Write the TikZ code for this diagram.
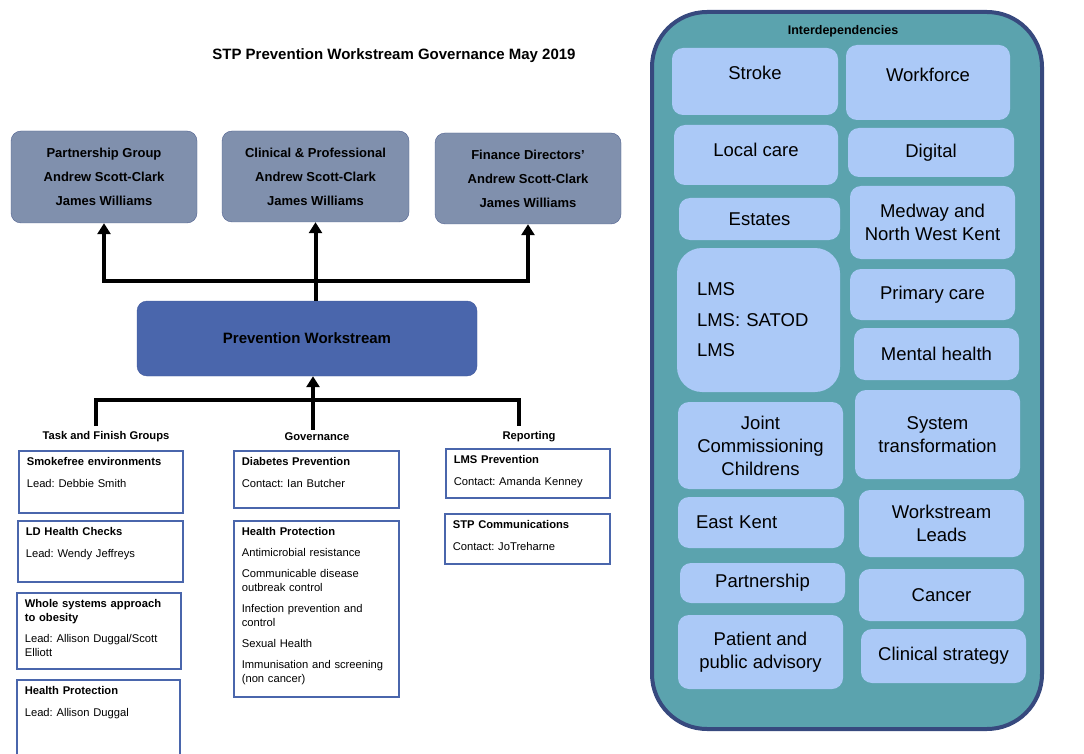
\documentclass[tikz,border=0pt]{standalone}
\usepackage{fontspec}
\setmainfont{Liberation Sans}
\usepackage{tikz}
\usetikzlibrary{arrows.meta}
\definecolor{govfill}{RGB}{128,144,173}
\definecolor{govline}{RGB}{80,97,144}
\definecolor{wsfill}{RGB}{74,102,172}
\definecolor{wsline}{RGB}{64,88,156}
\definecolor{listline}{RGB}{74,102,172}
\definecolor{panelfill}{RGB}{91,163,174}
\definecolor{panelline}{RGB}{55,73,126}
\definecolor{depfill}{RGB}{171,201,247}
\newcommand{\listfont}{\fontsize{11.2}{14}\selectfont}
\newcommand{\depfont}{\fontsize{18.5}{23}\selectfont}
\newcommand{\govfont}{\fontsize{13}{24}\selectfont\bfseries}
\frenchspacing

\begin{document}
\begin{tikzpicture}[x=1pt, y=-1pt,
    govbox/.style n args={2}{draw=govline, fill=govfill, rounded corners=10pt,
        minimum width=#1pt, minimum height=#2pt, align=center, font=\govfont},
    wsbox/.style={draw=wsline, fill=wsfill, rounded corners=10pt,
        minimum width=340pt, minimum height=75pt, font=\fontsize{15}{18}\selectfont\bfseries},
    head/.style={font=\listfont\bfseries},
    listbox/.style n args={2}{draw=listline, line width=1.6pt, anchor=north west,
        text width=#1pt, text height=9pt, text depth=#2pt,
        inner xsep=8pt, inner ysep=6pt, align=left, font=\listfont},
    panel/.style={draw=panelline, fill=panelfill, line width=4pt, rounded corners=55pt,
        minimum width=390pt, minimum height=717pt},
    dep/.style n args={2}{fill=depfill, rounded corners=11pt, inner sep=0pt,
        minimum width=#1pt, minimum height=#2pt, align=center, font=\depfont},
    link/.style={line width=4pt},
    arr/.style={link, -{Triangle[length=11pt,width=13pt]}}]
    \useasboundingbox (0,0) rectangle (1084,754);

    \node[font=\fontsize{15}{18}\selectfont\bfseries] (title) at (394,56) {STP Prevention Workstream Governance May 2019};

    \node[govbox={186}{92}] (partner) at (104,177) {Partnership Group\\Andrew Scott-Clark\\James Williams};
    \node[govbox={187}{91}] (clin) at (315.5,176.5) {Clinical \& Professional\\Andrew Scott-Clark\\James Williams};
    \node[govbox={186}{91}] (finance) at (528,178.5) {Finance Directors'\\Andrew Scott-Clark\\James Williams};

    \node[wsbox] (pw) at (307,338.5) {Prevention Workstream};

    \coordinate (up) at (clin.south |- 0,281);
    \draw[arr] (clin.south |- pw.north) -- (clin.south);
    \draw[arr] (up) -| (partner.south);
    \draw[arr] (up) -| (finance.south);

    \node[head] (tfg) at (106,437) {Task and Finish Groups};
    \node[head] (gov) at (317,437) {Governance};
    \node[head] (rep) at (529,437) {Reporting};

    \coordinate (down) at (313,400);
    \coordinate (tl) at (96,426);
    \coordinate (rl) at (519,426);
    \draw[link] (tl) |- (down) -| (rl);
    \draw[arr] (gov.north -| down) -- (pw.south -| down);

    \node[listbox={148}{41}] (smoke) at (18,450) {\textbf{Smokefree environments}\\[8pt]Lead: Debbie Smith};
    \node[listbox={149}{40}] (ldhc) at (17,520) {\textbf{LD Health Checks}\\[8pt]Lead: Wendy Jeffreys};
    \node[listbox={148}{55}] (obesity) at (16,592) {\textbf{Whole systems approach}\\\textbf{to obesity}\\[7pt]Lead: Allison Duggal/Scott\\Elliott};
    \node[listbox={147}{75}] (hplead) at (16,679) {\textbf{Health Protection}\\[8pt]Lead: Allison Duggal};

    \node[listbox={149}{36}] (diabetes) at (233,450) {\textbf{Diabetes Prevention}\\[8pt]Contact: Ian Butcher};
    \node[listbox={149}{155}] (hprot) at (233,520) {\textbf{Health Protection}\\[7pt]Antimicrobial resistance\\[7pt]Communicable disease\\outbreak control\\[7pt]Infection prevention and\\control\\[7pt]Sexual Health\\[7pt]Immunisation and screening\\(non cancer)};

    \node[listbox={148}{28}] (lmsprev) at (445,448) {\textbf{LMS Prevention}\\[8pt]Contact: Amanda Kenney};
    \node[listbox={149}{29}] (stpcomm) at (444,513) {\textbf{STP Communications}\\[8pt]Contact: JoTreharne};

    \node[panel] (panel) at (847,370.5) {};
    \node[font=\fontsize{12.5}{15}\selectfont\bfseries] (interdep) at (843,31) {Interdependencies};

    \node[dep={166}{67}, text depth=17pt] (stroke) at (755,81.5) {Stroke};
    \node[dep={164}{60}, text depth=10pt] (localcare) at (756,155) {Local care};
    \node[dep={161}{42}] (estates) at (759.5,219) {Estates};
    \node[dep={163}{144}, rounded corners=25pt, align=left, text width=123pt, inner xsep=20pt] (lms) at (758.5,320) {LMS\\[7.5pt]LMS: SATOD\\[7.5pt]LMS};
    \node[dep={165}{87}] (joint) at (760.5,445.5) {Joint\\Commissioning\\Childrens};
    \node[dep={166}{51}, align=left, text width=130pt, inner xsep=18pt] (eastkent) at (761,522.5) {East Kent};
    \node[dep={165}{40}] (partnership) at (762.5,583) {Partnership};
    \node[dep={165}{74}] (patient) at (760.5,652) {Patient and\\public advisory};

    \node[dep={164}{75}, text depth=15pt] (workforce) at (928,82.5) {Workforce};
    \node[dep={166}{49}] (digital) at (931,152.5) {Digital};
    \node[dep={165}{73}] (medway) at (932.5,222.5) {Medway and\\North West Kent};
    \node[dep={165}{51}] (primary) at (932.5,294.5) {Primary care};
    \node[dep={165}{52}] (mental) at (936.5,354) {Mental health};
    \node[dep={165}{89}] (system) at (937.5,434.5) {System\\transformation};
    \node[dep={165}{67}] (leads) at (941.5,523.5) {Workstream\\Leads};
    \node[dep={165}{52}] (cancer) at (941.5,595) {Cancer};
    \node[dep={165}{54}] (clinical) at (943.5,656) {Clinical strategy};
\end{tikzpicture}
\end{document}
